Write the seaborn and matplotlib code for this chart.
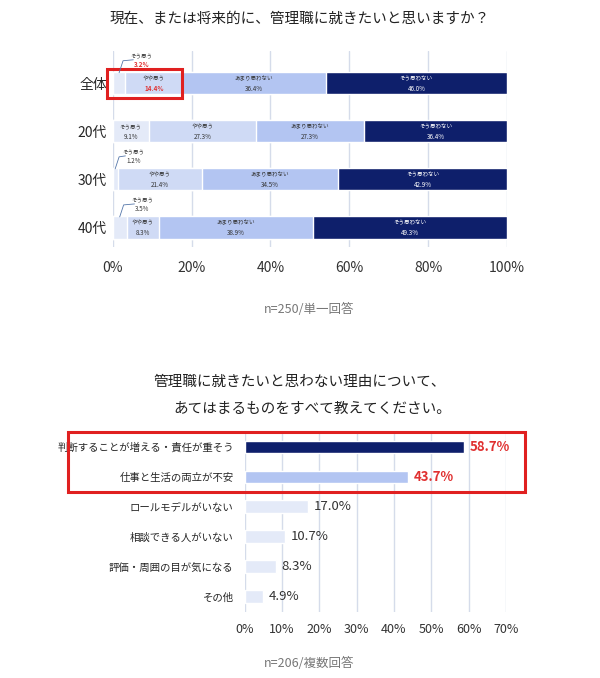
import numpy as np
import pandas as pd
import matplotlib
matplotlib.use("Agg")
import matplotlib.pyplot as plt
import seaborn as sns
from matplotlib.patches import Rectangle

sns.set_theme(style="white")
plt.rcParams['font.family'] = ['Noto Sans CJK JP', 'DejaVu Sans']

groups = ["全体", "20代", "30代", "40代"]
seg_names = ["そう思う", "やや思う", "あまり思わない", "そう思わない"]
seg_vals = [
    [3.2, 9.1, 1.2, 3.5],
    [14.4, 27.3, 21.4, 8.3],
    [36.4, 27.3, 34.5, 38.9],
    [46.0, 36.4, 42.9, 49.3],
]
seg_colors = ["#E4EAF8", "#CFDAF5", "#B3C5F2", "#0E1F6B"]
seg_text = ["#333333", "#333333", "#333333", "white"]

reasons = ["判断することが増える・責任が重そう", "仕事と生活の両立が不安", "ロールモデルがいない",
           "相談できる人がいない", "評価・周囲の目が気になる", "その他"]
reason_vals = [58.7, 43.7, 17.0, 10.7, 8.3, 4.9]
reason_colors = ["#0E1F6B", "#B3C5F2", "#E4EAF8", "#E4EAF8", "#E4EAF8", "#E4EAF8"]

fig = plt.figure(figsize=(6, 6.78), dpi=100)

# ---------- top chart ----------
ax = fig.add_axes([0.188, 0.635, 0.657, 0.29])
vals = np.array(seg_vals)
cum = np.cumsum(vals, axis=0)
for i in range(3, -1, -1):
    df = pd.DataFrame({"g": groups, "v": cum[i]})
    sns.barplot(data=df, x="v", y="g", color=seg_colors[i], width=0.46,
                saturation=1, ax=ax, orient="h")
ax.set_xlim(0, 100)
ax.set_xticks([0, 20, 40, 60, 80, 100])
ax.set_xticklabels(["0%", "20%", "40%", "60%", "80%", "100%"], fontsize=10, color="#333")
ax.set_xlabel(""); ax.set_ylabel("")
ax.tick_params(axis="y", labelsize=10, length=0, pad=4)
ax.tick_params(axis="x", length=0, pad=10)
ax.grid(axis="x", color="#D5DCEA", lw=1)
ax.set_axisbelow(True)
for s in ax.spines.values():
    s.set_visible(False)
for r in range(4):
    left = 0
    for i in range(4):
        v = vals[i, r]
        mid = left + v / 2
        small = v < 5
        red = (r == 0 and i in (0, 1))
        col = "#E03030" if red else seg_text[i]
        fw = "bold" if red else "normal"
        if small:
            ax.text(left + v + 4, r - 0.57, seg_names[i], fontsize=4, color="#333", ha="center", va="center")
            ax.text(left + v + 4, r - 0.39, f"{v:.1f}%", fontsize=4.5, color=col, ha="center", va="center", fontweight=fw)
            ax.plot([left + v / 2, left + v / 2 + 1, left + v + 2], [r - 0.22, r - 0.47, r - 0.49], color="#5577AA", lw=0.6)
        else:
            ax.text(mid, r - 0.1, seg_names[i], fontsize=4, color=seg_text[i], ha="center", va="center")
            ax.text(mid, r + 0.11, f"{v:.1f}%", fontsize=4.5, color=col, ha="center", va="center", fontweight=fw)
        left += v
ax.add_patch(Rectangle((-1.5, -0.3), 19, 0.6, fill=False, ec="#E02020", lw=2.2, clip_on=False))

fig.text(0.5, 0.972, "現在、または将来的に、管理職に就きたいと思いますか？", ha="center", va="center", fontsize=10.5, color="#222")
fig.text(0.515, 0.543, "n=250/単一回答", ha="center", va="center", fontsize=9, color="#777")

# ---------- bottom chart ----------
ax2 = fig.add_axes([0.408, 0.098, 0.435, 0.265])
df2 = pd.DataFrame({"r": reasons, "v": reason_vals})
sns.barplot(data=df2, x="v", y="r", hue="r", palette=reason_colors, legend=False,
            width=0.42, saturation=1, ax=ax2, orient="h")
ax2.set_xlim(0, 70)
ax2.set_xticks(range(0, 71, 10))
ax2.set_xticklabels([f"{t}%" for t in range(0, 71, 10)], fontsize=9, color="#333")
ax2.set_xlabel(""); ax2.set_ylabel("")
ax2.tick_params(axis="y", labelsize=7.5, length=0, pad=8)
ax2.tick_params(axis="x", length=0, pad=8)
ax2.grid(axis="x", color="#D5DCEA", lw=1)
ax2.set_axisbelow(True)
for s in ax2.spines.values():
    s.set_visible(False)
for i, v in enumerate(reason_vals):
    if i < 2:
        ax2.text(v + 1.5, i, f"{v:.1f}%", fontsize=9.5, color="#E03030", fontweight="bold", va="center")
    else:
        ax2.text(v + 1.5, i, f"{v:.1f}%", fontsize=9.5, color="#333", va="center")
fig.patches.append(Rectangle((0.113, 0.274), 0.762, 0.089, transform=fig.transFigure,
                             fill=False, ec="#E02020", lw=2.2))
fig.text(0.5, 0.437, "管理職に就きたいと思わない理由について、", ha="center", va="center", fontsize=10.5, color="#222")
fig.text(0.52, 0.397, "あてはまるものをすべて教えてください。", ha="center", va="center", fontsize=10.5, color="#222")
fig.text(0.515, 0.022, "n=206/複数回答", ha="center", va="center", fontsize=9, color="#777")

fig.savefig("out.png", dpi=100, facecolor="white")
